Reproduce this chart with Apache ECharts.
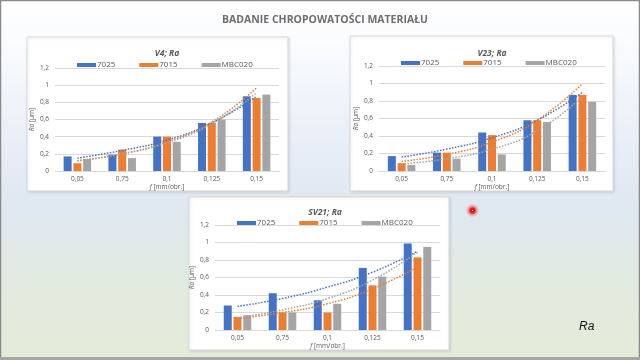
<!DOCTYPE html>
<html>
<head>
<meta charset="utf-8">
<script src="https://cdn.jsdelivr.net/npm/echarts@6/dist/echarts.min.js"></script>
<style>
html,body{margin:0;padding:0;}
#c{width:640px;height:360px;background:linear-gradient(180deg,#ffffff 0%,#fbfcfe 10%,#e8eef7 40%,#dfe7f1 58%,#e1eadf 78%,#e3ecd8 100%);}
</style>
</head>
<body>
<div id="c"></div>
<script>
// ---- data ----
const categories = ['0,05', '0,75', '0,1', '0,125', '0,15'];
const yTickLabels = ['0', '0,2', '0,4', '0,6', '0,8', '1', '1,2'];
const seriesNames = ['7025', '7015', 'MBC020'];
const chartTitles = ['V4; Ra', 'V23; Ra', 'SV21; Ra'];

// V4
const v4_7025 = [0.17, 0.19, 0.40, 0.56, 0.87];
const v4_7015 = [0.09, 0.25, 0.40, 0.56, 0.85];
const v4_MBC020 = [0.14, 0.15, 0.34, 0.60, 0.89];
const v4_trend_7025 = [0.15, 0.24, 0.36, 0.56, 0.87];
const v4_trend_7015 = [0.12, 0.20, 0.34, 0.57, 0.97];
const v4_trend_MBC020 = [0.12, 0.20, 0.33, 0.55, 0.91];

// V23
const v23_7025 = [0.17, 0.21, 0.44, 0.58, 0.87];
const v23_7015 = [0.09, 0.21, 0.41, 0.58, 0.87];
const v23_MBC020 = [0.07, 0.14, 0.19, 0.56, 0.79];
const v23_trend_7025 = [0.16, 0.25, 0.38, 0.58, 0.90];
const v23_trend_7015 = [0.11, 0.19, 0.33, 0.58, 1.00];
const v23_trend_MBC020 = [0.08, 0.14, 0.25, 0.46, 0.85];

// SV21
const sv21_7025 = [0.28, 0.42, 0.34, 0.71, 0.99];
const sv21_7015 = [0.15, 0.20, 0.20, 0.51, 0.83];
const sv21_MBC020 = [0.17, 0.20, 0.30, 0.61, 0.95];
const sv21_trend_7025 = [0.27, 0.36, 0.49, 0.66, 0.90];
const sv21_trend_7015 = [0.13, 0.20, 0.30, 0.47, 0.72];
const sv21_trend_MBC020 = [0.14, 0.23, 0.36, 0.57, 0.89];

// ---- layout / styles ----
const colors = ['#4472C4', '#ED7D31', '#A5A5A5'];
const FONT = '"Open Sans", "Liberation Sans", sans-serif';
const txt = '#595959';

const chartsData = [
  { bars: [v4_7025, v4_7015, v4_MBC020], trends: [v4_trend_7025, v4_trend_7015, v4_trend_MBC020] },
  { bars: [v23_7025, v23_7015, v23_MBC020], trends: [v23_trend_7025, v23_trend_7015, v23_trend_MBC020] },
  { bars: [sv21_7025, sv21_7015, sv21_MBC020], trends: [sv21_trend_7025, sv21_trend_7015, sv21_trend_MBC020] }
];

const layouts = [
  { panel: [27, 37, 261, 154], grid: { left: 55, top: 68, width: 224, height: 103 }, titleX: 162, titleY: 44, legendX: 72, legendY: 56 },
  { panel: [350, 36, 263, 155], grid: { left: 379, top: 66, width: 226, height: 105 }, titleX: 487, titleY: 44, legendX: 396, legendY: 54 },
  { panel: [189, 197, 260, 153], grid: { left: 215, top: 225, width: 225, height: 105 }, titleX: 320, titleY: 203, legendX: 232, legendY: 214 }
];

const option = {
  animation: false,
  color: colors,
  textStyle: { fontFamily: FONT },
  title: [
    { text: 'BADANIE CHROPOWATOŚCI MATERIAŁU', left: 320, top: 10, textAlign: 'center',
      textStyle: { fontFamily: FONT, fontSize: 10.5, fontWeight: 'bold', color: '#6e6e6e' } }
  ],
  legend: [],
  grid: [],
  xAxis: [],
  yAxis: [],
  series: [],
  graphic: []
};

// background panels
layouts.forEach(l => {
  option.graphic.push({
    type: 'rect', z: -10, silent: true,
    shape: { x: l.panel[0], y: l.panel[1], width: l.panel[2], height: l.panel[3] },
    style: { fill: '#ffffff', stroke: '#d6d9de', lineWidth: 1, shadowBlur: 3, shadowColor: 'rgba(0,0,0,0.12)', shadowOffsetX: 1, shadowOffsetY: 1 }
  });
});

layouts.forEach((l, i) => {
  option.title.push({
    text: chartTitles[i], left: l.titleX, top: l.titleY, textAlign: 'center',
    textStyle: { fontFamily: FONT, fontSize: 8.5, fontStyle: 'italic', fontWeight: 'bold', color: txt }
  });
  option.legend.push({
    left: l.legendX, top: l.legendY, itemWidth: 19, itemHeight: 4, itemGap: 24,
    icon: 'rect', data: seriesNames, selectedMode: false,
    textStyle: { fontFamily: FONT, fontSize: 8, color: txt, padding: [0, 0, 0, -4] }
  });
  option.grid.push(Object.assign({ containLabel: false }, l.grid));
  option.xAxis.push({
    type: 'category', gridIndex: i, data: categories,
    axisTick: { show: false },
    axisLine: { lineStyle: { color: '#d9d9d9' } },
    axisLabel: { fontFamily: FONT, fontSize: 6.5, color: txt, margin: 5 },
    name: '{i|f} [mm/obr.]', nameLocation: 'middle', nameGap: 10,
    nameTextStyle: { fontFamily: FONT, fontSize: 6.5, color: txt, rich: { i: { fontFamily: FONT, fontStyle: 'italic', fontSize: 6.5, color: txt } } }
  });
  option.yAxis.push({
    type: 'value', gridIndex: i, min: 0, max: 1.2, interval: 0.2,
    axisLine: { show: false }, axisTick: { show: false },
    splitLine: { lineStyle: { color: '#d9d9d9', width: 1 } },
    axisLabel: { fontFamily: FONT, fontSize: 6.5, color: txt, margin: 6,
      formatter: v => yTickLabels[Math.round(v / 0.2)] },
    name: '{i|Ra} [µm]', nameLocation: 'middle', nameRotate: 90, nameGap: 15,
    nameTextStyle: { fontFamily: FONT, fontSize: 6.5, color: txt, rich: { i: { fontFamily: FONT, fontStyle: 'italic', fontSize: 6.5, color: txt } } }
  });
  const d = chartsData[i];
  seriesNames.forEach((n, k) => {
    option.series.push({
      type: 'bar', name: n, xAxisIndex: i, yAxisIndex: i, data: d.bars[k],
      barWidth: 8, barGap: '22%', itemStyle: { color: colors[k] }
    });
  });
  seriesNames.forEach((n, k) => {
    option.series.push({
      type: 'line', name: 'trend ' + n + ' ' + i, xAxisIndex: i, yAxisIndex: i, data: d.trends[k],
      smooth: true, showSymbol: false, symbol: 'none', z: 5,
      lineStyle: { color: colors[k], type: 'dotted', width: 1.5 }
    });
  });
});

// slide decorations
option.graphic.push(
  { type: 'circle', silent: true, z: 20, shape: { cx: 472.5, cy: 210.5, r: 7 },
    style: { fill: { type: 'radial', x: 0.5, y: 0.5, r: 0.5,
      colorStops: [{ offset: 0, color: '#ffffff' }, { offset: 0.15, color: '#e01010' }, { offset: 0.35, color: '#e52020' }, { offset: 0.6, color: 'rgba(240,60,60,0.45)' }, { offset: 1, color: 'rgba(255,120,120,0)' }] } } },
  { type: 'text', silent: true, z: 20, left: 579, top: 321,
    style: { text: 'Ra', fontFamily: '"Liberation Sans", Arial, sans-serif', fontSize: 12, fontStyle: 'italic', fill: '#111111' } },
  { type: 'rect', silent: true, z: 30, shape: { x: 0.5, y: 0.5, width: 639, height: 359 },
    style: { fill: 'none', stroke: '#8a8a8a', lineWidth: 1.5 } },
  { type: 'rect', silent: true, z: 30, shape: { x: 0, y: 357, width: 640, height: 3 },
    style: { fill: '#a3a8a0' } }
);

const chart = echarts.init(document.getElementById('c'), null, { renderer: 'canvas' });
chart.setOption(option);
</script>
</body>
</html>
